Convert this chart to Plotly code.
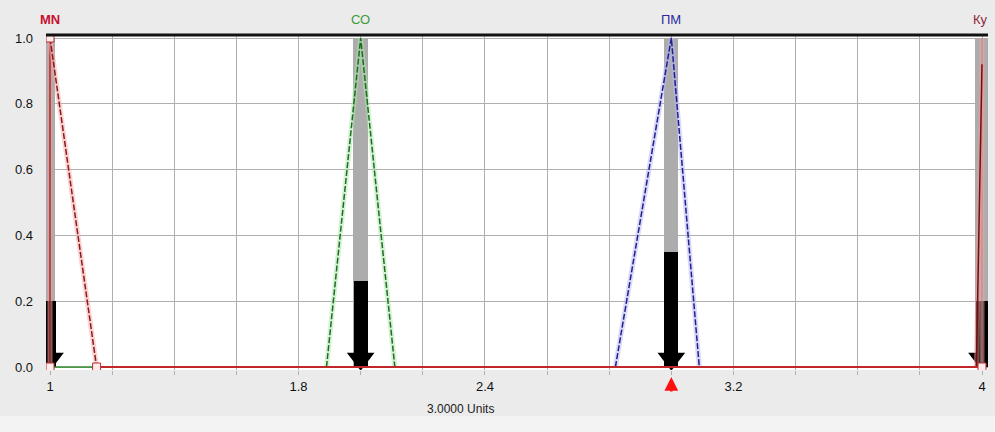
import plotly.graph_objects as go

# ---- data ----
terms = ["MN", "СО", "ПМ", "Ку"]
term_centers = [1.0, 2.0, 3.0, 4.0]
term_colors = ["#c8102e", "#3c9a3c", "#2a2a9c", "#8b2a3a"]
activation = [0.20, 0.26, 0.35, 0.20]

mn_x = [1.0, 1.15]
mn_y = [1.0, 0.0]
so_x = [1.89, 2.0, 2.11]
so_y = [0.0, 1.0, 0.0]
pm_x = [2.82, 3.0, 3.09]
pm_y = [0.0, 1.0, 0.0]
ku_x = [3.982, 4.0]
ku_y = [0.0, 0.92]

base_red_x = [1.15, 4.0]
base_green_x = [1.0, 1.15]
vertex_x = [1.0, 1.0, 1.15, 4.0]
vertex_y = [1.0, 0.0, 0.0, 0.0]

crisp_value = 3.0
x_label = "3.0000 Units"

grid_x = [round(1.0 + 0.2 * i, 1) for i in range(16)]
x_tick_text = {1.0: "1", 1.8: "1.8", 2.4: "2.4", 3.2: "3.2", 4.0: "4"}
y_ticks = [0.0, 0.2, 0.4, 0.6, 0.8, 1.0]
y_tick_text = ["0.0", "0.2", "0.4", "0.6", "0.8", "1.0"]

# ---- geometry ----
L, R, T, B = 46, 7, 35, 62
W, H = 995, 432
px_per_x = 310.67
px_per_y = 329.0
x_range = [1.0 - 4 / px_per_x, 4.0 + 6 / px_per_x]
y_range = [-3 / px_per_y, 1.0 + 3 / px_per_y]

fig = go.Figure()

# gray bands
gray_w = [10 / px_per_x, 15 / px_per_x, 14 / px_per_x, 15 / px_per_x]
fig.add_trace(go.Bar(x=term_centers, y=[1.0] * 4, width=gray_w,
                     marker=dict(color="#acacac", line=dict(width=0)),
                     hoverinfo="skip", showlegend=False))
# black activation bars
black_w = [12 / px_per_x, 14 / px_per_x, 14 / px_per_x, 12 / px_per_x]
fig.add_trace(go.Bar(x=term_centers, y=activation, width=black_w,
                     marker=dict(color="#000000", line=dict(width=0)),
                     hoverinfo="skip", showlegend=False))
fig.update_layout(barmode="overlay", bargap=0)
# arrow heads
fig.add_trace(go.Scatter(x=term_centers, y=[0.025] * 4, mode="markers",
                         marker=dict(symbol="triangle-down", size=24, color="#000000",
                                     line=dict(width=0)),
                         hoverinfo="skip", showlegend=False))

def glow_line(x, y, color, glow, dash, width=1.5):
    fig.add_trace(go.Scatter(x=x, y=y, mode="lines",
                             line=dict(color=glow, width=5),
                             hoverinfo="skip", showlegend=False))
    fig.add_trace(go.Scatter(x=x, y=y, mode="lines",
                             line=dict(color=color, width=width, dash=dash),
                             hoverinfo="skip", showlegend=False))

# MN vertical edge & Ku vertical edge
glow_line([1.0, 1.0], [0.0, 1.0], "#8b1a1a", "rgba(240,150,150,0.6)", "solid", 1.2)
glow_line([4.0, 4.0], [0.0, 1.0], "rgba(200,120,120,0.7)", "rgba(240,170,170,0.5)", "solid", 1.2)
# membership functions
glow_line(mn_x, mn_y, "#8b1a1a", "rgba(245,170,170,0.5)", "6px,2px")
glow_line(so_x, so_y, "#1e6e1e", "rgba(170,230,170,0.5)", "6px,2px")
glow_line(pm_x, pm_y, "#20208c", "rgba(180,180,245,0.5)", "6px,2px")
glow_line(ku_x, ku_y, "#6e1010", "rgba(240,150,150,0.5)", "solid")
# baselines
fig.add_trace(go.Scatter(x=base_green_x, y=[0, 0], mode="lines",
                         line=dict(color="#2e8b2e", width=1.5),
                         hoverinfo="skip", showlegend=False))
fig.add_trace(go.Scatter(x=base_red_x, y=[0, 0], mode="lines",
                         line=dict(color="#c0282a", width=2),
                         hoverinfo="skip", showlegend=False))
# vertex squares
fig.add_trace(go.Scatter(x=vertex_x, y=vertex_y, mode="markers",
                         marker=dict(symbol="square", size=8, color="rgba(255,235,235,1)",
                                     line=dict(color="#b03030", width=1)),
                         hoverinfo="skip", showlegend=False))

# crisp output marker (red up arrow below the axis)
fig.add_annotation(x=crisp_value, y=0, xref="x", yref="y", text="",
                   showarrow=True, ax=0, ay=26, standoff=10,
                   arrowhead=2, arrowsize=1.1, arrowwidth=2.5, arrowcolor="#ff1010")

# term labels on top
for name, xc, col in zip(terms, term_centers, term_colors):
    anchor = "center"
    if xc == 4.0:
        anchor = "right"
    fig.add_annotation(x=xc, y=1.0, xref="x", yref="paper", text=name,
                       showarrow=False, yanchor="bottom", yshift=6,
                       xanchor=anchor, xshift=(8 if anchor == "right" else 0),
                       font=dict(family="Liberation Sans, Arial", size=13, color=col,
                                 weight=("bold" if name == "MN" else "normal")))

fig.add_annotation(x=0.44, y=0, xref="paper", yref="paper", text=x_label,
                   showarrow=False, yanchor="top", yshift=-30,
                   font=dict(family="Liberation Sans, Arial", size=12, color="#222222"))

# top frame line
fig.add_shape(type="line", xref="paper", yref="paper", x0=0, x1=1, y0=1, y1=1,
              line=dict(color="#111111", width=3), layer="above")
# lighter strip at the very bottom
fig.add_shape(type="rect", xref="paper", yref="paper", x0=-0.06, x1=1.01,
              y0=-(432 - 370) / 335, y1=-(416 - 370) / 335,
              line=dict(width=0), fillcolor="#f3f3f3", layer="below")

fig.update_xaxes(range=x_range, tickvals=grid_x,
                 ticktext=[x_tick_text.get(v, "") for v in grid_x],
                 showgrid=True, gridcolor="#b0b0b0", gridwidth=1,
                 zeroline=False, showline=False, ticks="outside", ticklen=4,
                 tickcolor="#b0b0b0",
                 tickfont=dict(family="Liberation Sans, Arial", size=13, color="#111111"))
fig.update_yaxes(range=y_range, tickvals=y_ticks, ticktext=y_tick_text,
                 showgrid=True, gridcolor="#b0b0b0", gridwidth=1,
                 zeroline=False, showline=False, ticks="", ticklabelstandoff=12,
                 tickfont=dict(family="Liberation Sans, Arial", size=13, color="#111111"))

fig.update_layout(width=W, height=H, margin=dict(l=L, r=R, t=T, b=B, pad=0),
                  paper_bgcolor="#ebebeb", plot_bgcolor="#ffffff",
                  showlegend=False)

fig.write_html("out.html", config={"displayModeBar": False},
               post_script="document.body.style.margin='0';document.body.style.background='#ebebeb';")
